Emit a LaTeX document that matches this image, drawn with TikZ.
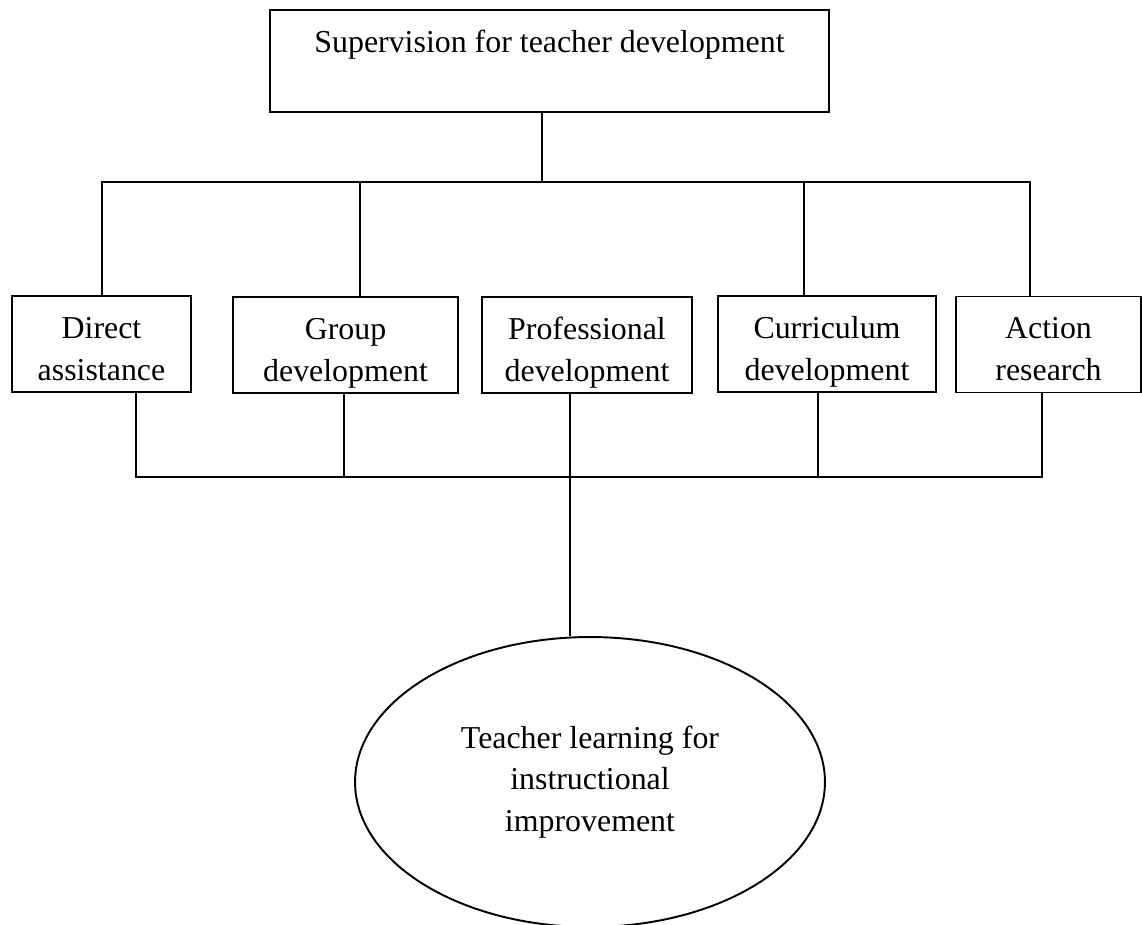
\documentclass[tikz,border=0pt]{standalone}
\usepackage{fontspec}
\setmainfont{Liberation Serif}
\usetikzlibrary{shapes.geometric}
\tikzset{
  box/.style={draw, inner sep=0pt, align=center, text height=1.68cm, text depth=0.24cm, minimum height=1.92cm},
  oval/.style={draw, ellipse, inner sep=0pt, align=center}
}
\begin{document}
\begin{tikzpicture}[x=0.02cm, y=-0.02cm, line width=1.1pt, font=\fontsize{18.15pt}{23.7pt}\selectfont]
            \useasboundingbox (0,0) rectangle (1142,924);
            \node[box, minimum width=11.18cm, minimum height=2.04cm, text height=0.84cm, text depth=1.2cm] (b0) at (549.5, 61) {Supervision for teacher development};
            \node[box, minimum width=3.58cm] (b1) at (101.5, 344) {Direct\\assistance};
            \node[box, minimum width=4.5cm] (b2) at (345.5, 345) {Group\\development};
            \node[box, minimum width=4.2cm] (b3) at (587, 345) {Professional\\development};
            \node[box, minimum width=4.36cm] (b4) at (827, 344) {Curriculum\\development};
            \node[box, minimum width=3.7cm] (b5) at (1048.5, 344.5) {Action\\research};
            \node[oval, minimum width=9.4cm, minimum height=5.8cm] (e0) at (590, 782) {Teacher learning for\\instructional\\improvement};
            \coordinate (j0) at (542, 182);
            \coordinate (j1) at (102, 182);
            \coordinate (j2) at (360, 182);
            \coordinate (j3) at (804, 182);
            \coordinate (j4) at (1030, 182);
            \coordinate (k1) at (136, 477);
            \coordinate (k2) at (344, 477);
            \coordinate (k3) at (570, 477);
            \coordinate (k4) at (818, 477);
            \coordinate (k5) at (1042, 477);
            \draw (j0 |- b0.south) -- (j0);
            \draw (j1 |- b1.north) -- (j1) -- (j4) -- (j4 |- b5.north);
            \draw (j2) -- (j2 |- b2.north);
            \draw (j3) -- (j3 |- b4.north);
            \draw (k1 |- b1.south) -- (k1) -- (k5) -- (k5 |- b5.south);
            \draw (k2 |- b2.south) -- (k2);
            \draw (k4 |- b4.south) -- (k4);
            \draw (k3 |- b3.south) -- (k3 |- e0.north);
         \end{tikzpicture}
\end{document}
